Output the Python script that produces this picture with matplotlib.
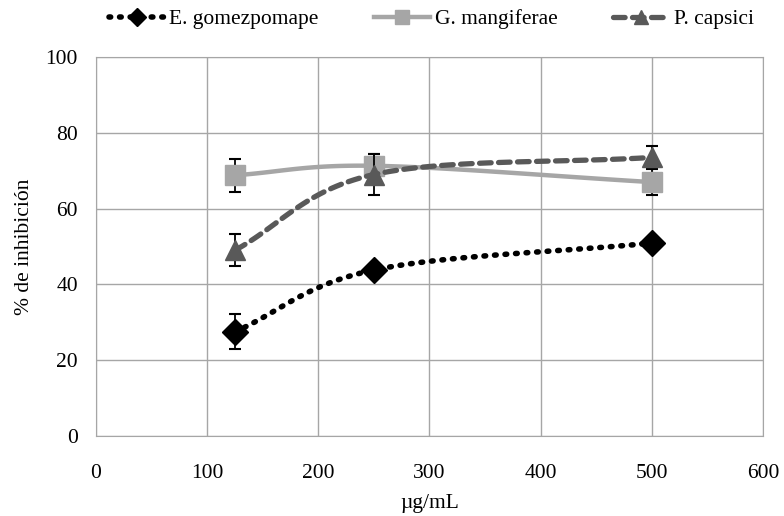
import matplotlib
matplotlib.use('Agg')
import matplotlib.pyplot as plt
import numpy as np

# Datos
conc = [125, 250, 500]
series = ['E. gomezpomape', 'G. mangiferae', 'P. capsici']
e_gomez = [27.5, 43.8, 50.9]
e_gomez_err = [4.6, 0.5, 0.5]
g_mang = [68.8, 71.3, 67.0]
g_mang_err = [4.3, 3.0, 3.4]
p_caps = [49.0, 69.0, 73.5]
p_caps_err = [4.2, 5.3, 2.9]

plt.rcParams['font.family'] = ['Liberation Serif', 'DejaVu Serif']


def smooth(x, y, n=40):
    # Curva suavizada tipo Excel (Catmull-Rom)
    x = np.asarray(x, float)
    y = np.asarray(y, float)
    px = np.concatenate([[2 * x[0] - x[1]], x, [2 * x[-1] - x[-2]]])
    py = np.concatenate([[2 * y[0] - y[1]], y, [2 * y[-1] - y[-2]]])
    xs, ys = [], []
    t = np.linspace(0, 1, n)
    for i in range(1, len(px) - 2):
        for arr, out in ((px, xs), (py, ys)):
            p0, p1, p2, p3 = arr[i - 1], arr[i], arr[i + 1], arr[i + 2]
            out.extend(0.5 * ((2 * p1) + (-p0 + p2) * t
                              + (2 * p0 - 5 * p1 + 4 * p2 - p3) * t ** 2
                              + (-p0 + 3 * p1 - 3 * p2 + p3) * t ** 3))
    return xs, ys


fig = plt.figure(figsize=(7.84, 5.16), dpi=100)
ax = fig.add_axes([0.1224, 0.155, 0.8508, 0.7345])

styles = [
    (e_gomez, e_gomez_err, 'black', (0, (0.3, 1.6)), 4.0, 'D', 13, 1),
    (g_mang, g_mang_err, '#a6a6a6', '-', 3.2, 's', 15, 2),
    (p_caps, p_caps_err, '#595959', (0, (2.2, 1.4)), 3.8, '^', 15, 3),
]

handles = []
for (vals, err, col, ls, lw, mk, ms, z), name in zip(styles, series):
    xs, ys = smooth(conc, vals)
    ax.plot(xs, ys, color=col, linestyle=ls, linewidth=lw,
            solid_capstyle='round', dash_capstyle='round', zorder=z)
    ax.errorbar(conc, vals, yerr=err, fmt='none', ecolor='black',
                elinewidth=1.3, capsize=4, capthick=1.5, zorder=z + 0.2)
    ax.plot(conc, vals, linestyle='none', marker=mk, markersize=ms,
            color=col, markeredgecolor=col, zorder=z + 0.4)
    h, = ax.plot([], [], color=col, linestyle=ls, linewidth=lw,
                 marker=mk, markersize=ms * 0.7, markeredgecolor=col,
                 dash_capstyle='round')
    handles.append(h)

ax.set_xlim(0, 600)
ax.set_ylim(0, 100)
ax.set_xticks(range(0, 601, 100))
ax.set_yticks(range(0, 101, 20))
ax.grid(True, color='#a6a6a6', linewidth=1)
ax.set_axisbelow(True)
for s in ax.spines.values():
    s.set_color('#a6a6a6')
ax.tick_params(length=0, labelsize=15.5)
ax.tick_params(axis='x', pad=20)
ax.tick_params(axis='y', pad=13)

ax.set_xlabel('µg/mL', fontsize=15.5, labelpad=8)
ax.set_ylabel('% de inhibición', fontsize=15.5, labelpad=8)

fig.legend(handles, series, loc='upper center', ncol=3,
           bbox_to_anchor=(0.55, 1.02), frameon=False, fontsize=15.5,
           handlelength=2.6, handletextpad=0.2, columnspacing=2.6)

fig.savefig('out.png', dpi=100)
